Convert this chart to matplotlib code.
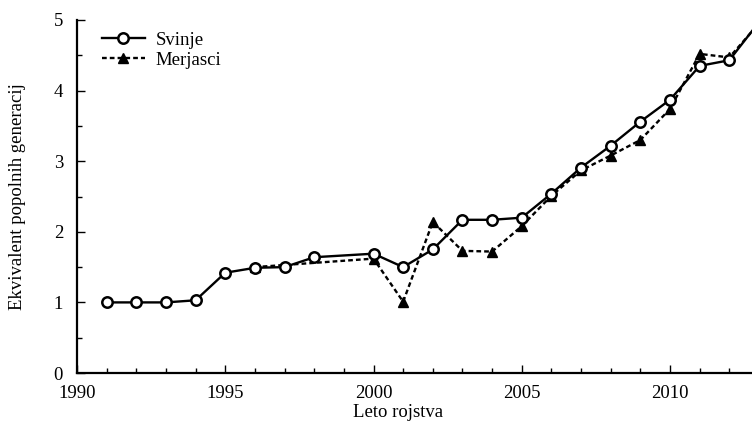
import matplotlib
matplotlib.use("Agg")
import matplotlib.pyplot as plt
from matplotlib.ticker import MultipleLocator

years_svinje = [1991, 1992, 1993, 1994, 1995, 1996, 1997, 1998, 2000, 2001, 2002,
                2003, 2004, 2005, 2006, 2007, 2008, 2009, 2010, 2011, 2012, 2013]
svinje = [1.00, 1.00, 1.00, 1.03, 1.42, 1.49, 1.50, 1.64, 1.69, 1.50, 1.75,
          2.17, 2.17, 2.20, 2.54, 2.91, 3.22, 3.56, 3.87, 4.35, 4.43, 4.97]

years_merjasci = [1996, 2000, 2001, 2002, 2003, 2004, 2005, 2006, 2007, 2008,
                  2009, 2010, 2011, 2012, 2013]
merjasci = [1.50, 1.62, 1.01, 2.14, 1.73, 1.72, 2.08, 2.51, 2.87, 3.08,
            3.30, 3.74, 4.52, 4.47, 4.95]

x_ticks = [1990, 1995, 2000, 2005, 2010]
y_ticks = [0, 1, 2, 3, 4, 5]

plt.rcParams['font.family'] = ['Liberation Serif', 'DejaVu Serif']

W, H = 752, 424
fig = plt.figure(figsize=(W / 100, H / 100), dpi=100)
left_px, bottom_px, top_px = 77, 373, 20
px_per_year = 29.65
xmax = 2015
width_px = (xmax - 1990) * px_per_year
height_px = bottom_px - top_px
ax = fig.add_axes([left_px / W, (H - bottom_px) / H, width_px / W, height_px / H])

ax.plot(years_svinje, svinje, color='black', lw=1.7, marker='o', ms=7.5,
        mfc='white', mec='black', mew=1.8, label='Svinje', zorder=3)
ax.plot(years_merjasci, merjasci, color='black', lw=1.7, ls=(0, (2.0, 1.3)),
        marker='^', ms=7.5, mfc='black', mec='black', label='Merjasci', zorder=2)

ax.set_xlim(1990, xmax)
ax.set_ylim(0, 5)
ax.set_xticks(x_ticks)
ax.set_yticks(y_ticks)
ax.xaxis.set_minor_locator(MultipleLocator(1))
ax.yaxis.set_minor_locator(MultipleLocator(0.5))
ax.tick_params(which='major', direction='in', length=6, width=1, labelsize=13.5)
ax.tick_params(which='minor', direction='in', length=3.5, width=1)
ax.tick_params(axis='y', which='major', pad=10)
ax.tick_params(axis='x', which='major', pad=9)
for s in ['top', 'right']:
    ax.spines[s].set_visible(False)
for s in ['left', 'bottom']:
    ax.spines[s].set_linewidth(1.6)

ax.set_ylabel('Ekvivalent popolnih generacij', fontsize=13.5)
ax.yaxis.set_label_coords(-(77 - 26) / width_px, 0.5)
ax.set_xlabel('Leto rojstva', fontsize=13.5)
ax.xaxis.set_label_coords((398 - 77) / width_px, -(404 - 373) / height_px)

ax.legend(loc='upper left', bbox_to_anchor=((94 - 77) / width_px, (height_px - 4) / height_px),
          frameon=False, fontsize=13.5, handlelength=2.3, handletextpad=0.6,
          labelspacing=0.15, borderaxespad=0.2, borderpad=0.2)

fig.savefig('out.png', dpi=100)
